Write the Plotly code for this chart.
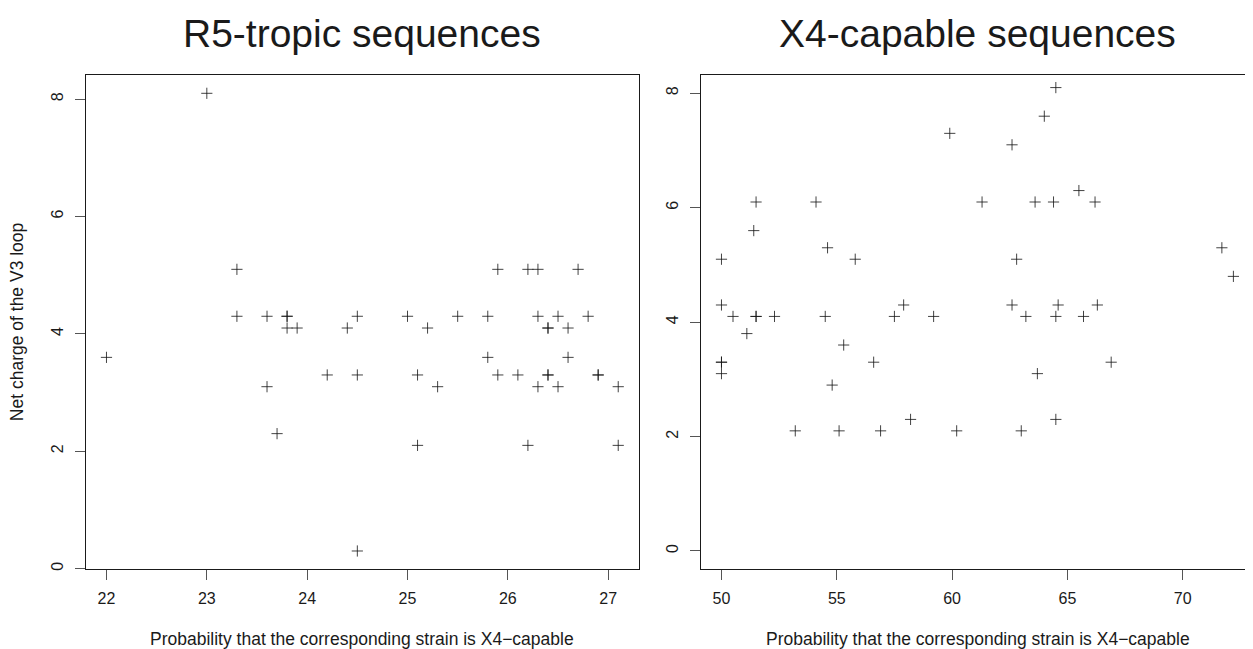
import plotly.graph_objects as go

# page offset: browser body margin is 8px
OFF = 8
W, H = 1253 - OFF, 649 - OFF

# Left panel: R5-tropic sequences
r5_prob = [22.0, 23.0, 23.3, 23.3, 23.6, 23.6, 23.7, 23.8, 23.8, 23.8, 23.9, 24.2, 24.4, 24.5,
           24.5, 24.5, 25.0, 25.1, 25.1, 25.2, 25.3, 25.5, 25.8, 25.8, 25.9, 25.9, 26.1, 26.2,
           26.2, 26.3, 26.3, 26.3, 26.4, 26.4, 26.4, 26.4, 26.5, 26.5, 26.6, 26.6, 26.7, 26.8,
           26.9, 26.9, 27.1, 27.1]
r5_charge = [3.6, 8.1, 5.1, 4.3, 4.3, 3.1, 2.3, 4.3, 4.3, 4.1, 4.1, 3.3, 4.1, 4.3,
             3.3, 0.3, 4.3, 3.3, 2.1, 4.1, 3.1, 4.3, 4.3, 3.6, 5.1, 3.3, 3.3, 5.1,
             2.1, 5.1, 4.3, 3.1, 4.1, 4.1, 3.3, 3.3, 4.3, 3.1, 4.1, 3.6, 5.1, 4.3,
             3.3, 3.3, 3.1, 2.1]

# Right panel: X4-capable sequences
x4_prob = [50.0, 50.0, 50.0, 50.0, 50.0, 50.5, 51.1, 51.5, 51.4, 51.5, 51.5, 52.3, 53.2, 54.1,
           54.6, 54.5, 54.8, 55.3, 55.1, 55.8, 56.6, 56.9, 57.5, 57.9, 58.2, 59.2, 59.9, 60.2,
           61.3, 62.6, 62.6, 62.8, 63.0, 63.2, 63.6, 63.7, 64.0, 64.4, 64.5, 64.5, 64.6, 64.5,
           65.5, 65.7, 66.2, 66.3, 66.9, 71.7, 72.2]
x4_charge = [5.1, 4.3, 3.3, 3.3, 3.1, 4.1, 3.8, 6.1, 5.6, 4.1, 4.1, 4.1, 2.1, 6.1,
             5.3, 4.1, 2.9, 3.6, 2.1, 5.1, 3.3, 2.1, 4.1, 4.3, 2.3, 4.1, 7.3, 2.1,
             6.1, 7.1, 4.3, 5.1, 2.1, 4.1, 6.1, 3.1, 7.6, 6.1, 8.1, 4.1, 4.3, 2.3,
             6.3, 4.1, 6.1, 4.3, 3.3, 5.3, 4.8]

left_xticks = [22, 23, 24, 25, 26, 27]
right_xticks = [50, 55, 60, 65, 70]
yticks = [0, 2, 4, 6, 8]

titles = ["R5-tropic sequences", "X4-capable sequences"]
xlabel = "Probability that the corresponding strain is X4\u2212capable"
ylabel = "Net charge of the V3 loop"

FONT = "Liberation Sans, Arial, Helvetica, sans-serif"
INK = "#1a1a1a"
MARK = "rgba(20,20,20,0.8)"

fig = go.Figure()
fig.add_trace(go.Scatter(x=r5_prob, y=r5_charge, mode="markers", xaxis="x", yaxis="y",
                         marker=dict(symbol="cross-thin", size=8, line=dict(width=1, color=MARK)),
                         showlegend=False, hoverinfo="x+y"))
fig.add_trace(go.Scatter(x=x4_prob, y=x4_charge, mode="markers", xaxis="x2", yaxis="y2",
                         marker=dict(symbol="cross-thin", size=8, line=dict(width=1, color=MARK)),
                         showlegend=False, hoverinfo="x+y"))

# pixel layout in page coordinates
Lx0, Lx1 = 86, 638.7
Rx0 = 701
Ytop, Ybot = 75, 569.3

def px(v):
    return (v - OFF) / W

def py(v):
    return 1 - (v - OFF) / H

axis_common = dict(showline=True, mirror=True, linecolor=INK, linewidth=1,
                   ticks="outside", ticklen=10, tickwidth=1, tickcolor="#555",
                   showgrid=False, zeroline=False,
                   tickfont=dict(family=FONT, size=16, color=INK))

fig.update_layout(
    width=W, height=H,
    margin=dict(l=0, r=0, t=0, b=0),
    paper_bgcolor="white", plot_bgcolor="white",
    xaxis=dict(domain=[px(Lx0), px(Lx1)], range=[21.796, 27.304], tickvals=left_xticks,
               anchor="y", ticklabelstandoff=4, **axis_common),
    yaxis=dict(domain=[py(Ybot), py(Ytop)], range=[-0.012, 8.412], tickvals=yticks,
               anchor="x", tickangle=-90, ticklabelstandoff=6, **axis_common),
    xaxis2=dict(domain=[px(Rx0), 1.0], range=[49.112, 73.05], tickvals=right_xticks,
                anchor="y2", ticklabelstandoff=4, **axis_common),
    yaxis2=dict(domain=[py(Ybot), py(Ytop)], range=[-0.32, 8.32], tickvals=yticks,
                anchor="x2", tickangle=-90, ticklabelstandoff=6, **axis_common),
)

anns = []
for cx, t in [((Lx0 + Lx1) / 2, titles[0]), ((Rx0 + 1254) / 2, titles[1])]:
    anns.append(dict(text=t, x=px(cx), y=py(33), xref="paper", yref="paper",
                     xanchor="center", yanchor="middle", showarrow=False,
                     font=dict(family=FONT, size=39, color=INK)))
    anns.append(dict(text=xlabel, x=px(cx), y=py(639), xref="paper", yref="paper",
                     xanchor="center", yanchor="middle", showarrow=False,
                     font=dict(family=FONT, size=17.5, color=INK)))
anns.append(dict(text=ylabel, x=px(17), y=py((Ytop + Ybot) / 2), xref="paper", yref="paper",
                 xanchor="center", yanchor="middle", showarrow=False, textangle=-90,
                 font=dict(family=FONT, size=17.5, color=INK)))
fig.update_layout(annotations=anns)

fig.write_html("out.html")
